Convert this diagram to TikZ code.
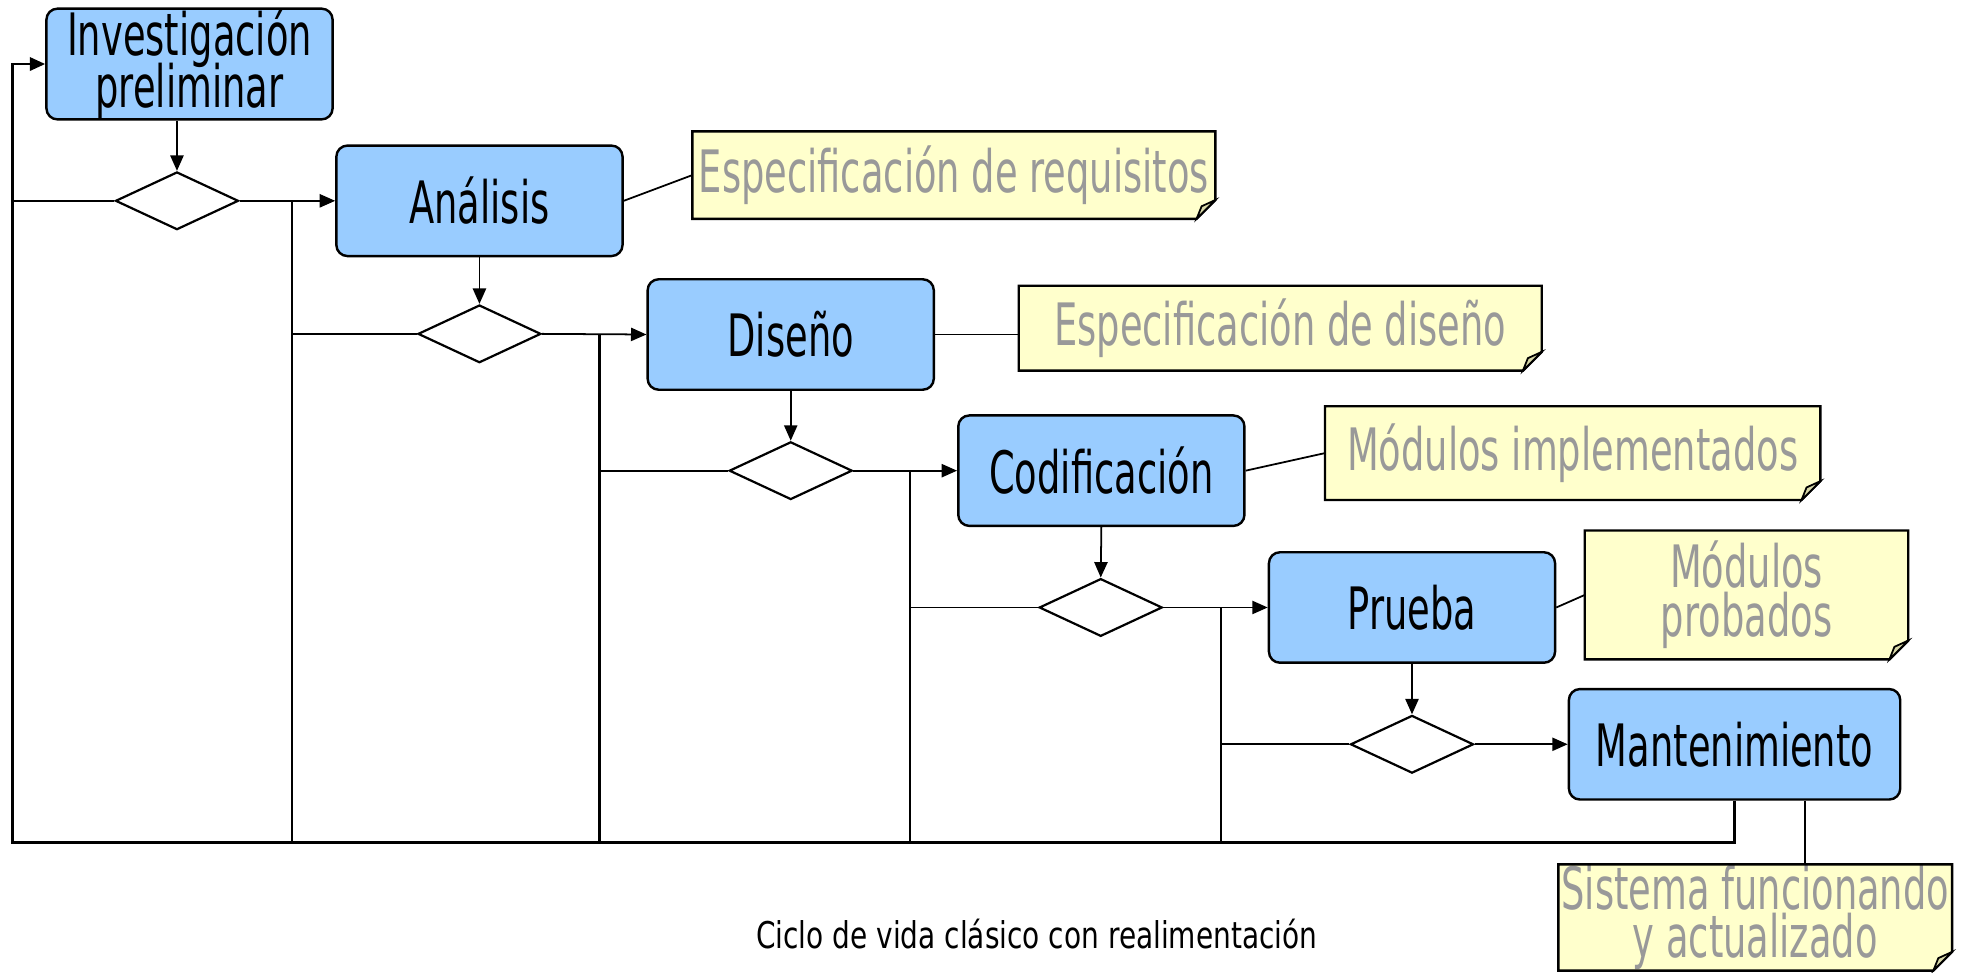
\documentclass[tikz,border=0pt]{standalone}
\usepackage{fontspec}
\setmainfont{DejaVu Sans}
\newfontfamily\etapafont[FakeStretch=0.63]{DejaVu Sans}
\newfontfamily\piefont[FakeStretch=0.76]{DejaVu Sans}
\usetikzlibrary{calc,shapes.geometric,arrows.meta}
\definecolor{azuletapa}{HTML}{99CCFF}
\definecolor{amarillonota}{HTML}{FFFFCC}
\definecolor{grisnota}{HTML}{999999}
\definecolor{pliegue}{HTML}{D8D8A8}
\newcommand{\letragrande}{\etapafont\fontsize{26.5}{22}\selectfont\setlength{\lineskiplimit}{-20pt}}
\newcommand{\letraetapa}{\etapafont\fontsize{26.5}{23.5}\selectfont\setlength{\lineskiplimit}{-20pt}}

\begin{document}
\begin{tikzpicture}[>={Triangle[length=7pt,width=6pt]},
		etapa/.style={draw,line width=1.1pt,rounded corners=5pt,fill=azuletapa,minimum width=4.56cm,minimum height=1.76cm,inner xsep=2pt,inner ysep=0pt,align=center,font=\letraetapa},
		decision/.style={diamond,draw,line width=1pt,fill=white,minimum width=1.96cm,minimum height=0.92cm,inner sep=0pt},
		nota/.style={fill=amarillonota,text=grisnota,align=center,inner sep=0pt,font=\letragrande},
		linea/.style={line width=0.8pt}]
		\useasboundingbox (0,0) rectangle (31.36,-15.49);
		% etapas
		\node[etapa] (inv) at (3.02,-1.02) {Investigación\\preliminar};
		\node[etapa] (ana) at (7.64,-3.20) {Análisis};
		\node[etapa] (dis) at (12.60,-5.33) {Diseño};
		\node[etapa] (cod) at (17.55,-7.50) {Codificación};
		\node[etapa] (pru) at (22.50,-9.68) {Prueba};
		\node[etapa,minimum width=5.28cm] (man) at (27.64,-11.86) {Mantenimiento};
		% decisiones
		\node[decision] (d1) at (2.82,-3.20) {};
		\node[decision] (d2) at (7.64,-5.32) {};
		\node[decision] (d3) at (12.60,-7.50) {};
		\node[decision] (d4) at (17.54,-9.68) {};
		\node[decision] (d5) at (22.50,-11.86) {};
		% documentos
		\node[nota,minimum width=8.32cm,minimum height=1.38cm] (req) at (15.20,-2.79) {Especificación de requisitos};
		\node[nota,minimum width=8.32cm,minimum height=1.34cm] (esd) at (20.40,-5.23) {Especificación de diseño};
		\node[nota,minimum width=7.88cm,minimum height=1.48cm] (imp) at (25.06,-7.22) {Módulos implementados};
		\node[nota,minimum width=5.14cm,minimum height=2.04cm] (prb) at (27.83,-9.48) {Módulos\\probados};
		\node[nota,minimum width=6.26cm,minimum height=1.68cm] (sis) at (27.97,-14.62) {Sistema funcionando\\y actualizado};
		\foreach \n in {req,esd,imp,prb,sis}{ %esquina doblada
			\fill[white] ([xshift=-0.3cm]\n.south east) -- (\n.south east) -- ([yshift=0.3cm]\n.south east) -- cycle;
			\draw[line width=1.1pt] (\n.north west) -- (\n.north east) -- ([yshift=0.3cm]\n.south east) -- ([xshift=-0.3cm]\n.south east) -- (\n.south west) -- cycle;
			\filldraw[fill=pliegue,line width=0.8pt] ([xshift=-0.3cm]\n.south east) -- ([xshift=-0.22cm,yshift=0.2cm]\n.south east) -- ([yshift=0.3cm]\n.south east) -- cycle;
		}
		% etapa -> decision
		\draw[linea,->] (d1 |- inv.south) -- (d1.north);
		\foreach \e/\d in {ana/d2,dis/d3,cod/d4,pru/d5}{
			\draw[linea,->] (\e.south) -- (\d.north);
		}
		% decision -> etapa siguiente
		\foreach \d/\e [count=\i] in {d1/ana,d2/dis,d3/cod,d4/pru}{
			\draw[linea,->] (\d.east) -- (\e.west);
			\coordinate (j\i) at ($(\d.east)!0.55!(\e.west)$);
		}
		\draw[linea,->] (d5.east) -- (man.west);
		% realimentacion
		\coordinate (b0) at (0.20,-13.42);
		\draw[line width=1.3pt,->] (man.south) |- (b0) |- (inv.west);
		\draw[linea] (d1.west) -- (d1.west -| b0);
		\foreach \i/\d in {1/d2,2/d3,3/d4,4/d5}{
			\draw[line width=1pt] (j\i |- b0) -- (j\i);
			\draw[linea] (\d.west) -- (\d.west -| j\i);
		}
		% documentos de cada etapa
		\draw[linea] (ana.east) -- (req.west);
		\draw[linea] (dis.east) -- (dis.east -| esd.west);
		\draw[linea] (cod.east) -- (imp.west);
		\draw[linea] (pru.east) -- (prb.west);
		\draw[linea] ([xshift=1.12cm]man.south) -- ([xshift=1.12cm]man.south |- sis.north);
		\node[font=\piefont\fontsize{16.7}{20}\selectfont] (pie) at (16.52,-14.88) {Ciclo de vida clásico con realimentación};
	\end{tikzpicture}
\end{document}
